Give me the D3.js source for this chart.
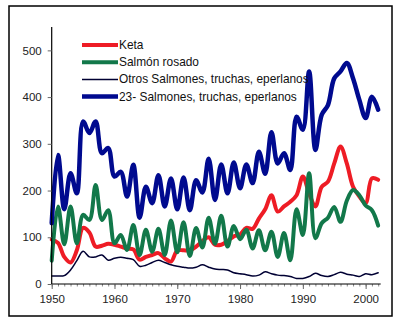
<!DOCTYPE html>
<html><head><meta charset="utf-8">
<script src="https://cdn.jsdelivr.net/npm/d3@7"></script>
<style>body{margin:0;background:#fff}svg{display:block}text{font-family:"Liberation Sans",Arial,sans-serif}</style>
</head><body><svg id="c" width="400" height="325"></svg>
<script>
const years = d3.range(1950, 2003);
const keta = [95,88,58,46,72,120,110,80,82,86,84,80,76,74,52,58,62,66,55,48,72,72,72,80,92,100,84,84,92,102,106,120,118,140,160,190,155,166,176,190,230,194,166,208,219,258,294,258,208,187,173,226,223];
const rosado = [50,166,85,166,87,148,137,212,137,158,87,105,73,126,62,116,69,118,62,136,68,132,60,120,78,142,86,146,80,124,96,116,76,115,72,112,58,109,51,160,105,237,98,130,142,165,133,178,201,190,168,158,125];
const otros = [17,17,18,30,50,70,58,58,62,51,55,57,55,52,38,40,46,51,46,41,38,36,34,36,41,36,32,31,30,24,22,20,17,19,26,22,19,18,16,12,12,16,23,18,16,20,25,21,19,16,22,20,24];
const total = [130,276,160,237,194,348,323,348,280,291,230,240,187,255,142,208,173,233,166,226,160,228,158,222,196,268,180,256,194,260,205,256,216,283,236,325,258,280,244,358,330,455,287,362,383,440,455,473,440,394,355,401,373];
const seriesNames = ["Keta","Salmón rosado","Otros Salmones, truchas, eperlanos","23- Salmones, truchas, eperlanos"];
const seriesColors = ["#ee1c25","#12784a","#000033","#000a8f"];
const seriesWidths = [4,4,1.5,4.5];
const yTicks = [0,100,200,300,400,500];
const xTicks = [1950,1960,1970,1980,1990,2000];

const svg = d3.select("#c");
svg.append("rect").attr("x",9).attr("y",6).attr("width",383).attr("height",310)
  .attr("fill","none").attr("stroke","#000").attr("stroke-width",1.5);

const x = d3.scaleLinear().domain([1950, 2002.4]).range([51.7, 380.7]);
const y = d3.scaleLinear().domain([0, 550]).range([284, 27]);

const data = [keta, rosado, otros, total];
const line = d3.line().x((d,i)=>x(years[i])).y(d=>y(d)).curve(d3.curveCatmullRom.alpha(0.5));
data.forEach((s,k)=>{
  svg.append("path").datum(s).attr("d",line).attr("fill","none")
    .attr("stroke",seriesColors[k]).attr("stroke-width",seriesWidths[k])
    .attr("stroke-linejoin","round").attr("stroke-linecap","round");
});

// y axis
const ya = svg.append("g").attr("transform",`translate(${x(1950)},0)`)
  .call(d3.axisLeft(y).tickValues(yTicks).tickSize(4).tickPadding(6));
ya.select(".domain").attr("d",`M0,${y(550)}V${y(0)}`).attr("stroke","#000").attr("stroke-width",1.2);
ya.selectAll("text").attr("font-size",11.5).attr("fill","#222").attr("font-family","Liberation Sans, Arial, sans-serif");
ya.selectAll("line").attr("stroke","#666");

// x axis minor
const xm = svg.append("g").attr("transform",`translate(0,${y(0)})`)
  .call(d3.axisBottom(x).tickValues(d3.range(1950,2003)).tickSize(2.5).tickFormat(""));
xm.select(".domain").remove();
xm.selectAll("line").attr("stroke","#888");
const xa = svg.append("g").attr("transform",`translate(0,${y(0)})`)
  .call(d3.axisBottom(x).tickValues(xTicks).tickSize(5).tickPadding(6).tickFormat(d3.format("d")));
xa.select(".domain").attr("d",`M${x(1950)},0H${x(2002.4)}`).attr("stroke","#000").attr("stroke-width",1.2);
xa.selectAll("text").attr("font-size",11.5).attr("fill","#222").attr("font-family","Liberation Sans, Arial, sans-serif");
xa.selectAll("line").attr("stroke","#666");

// legend
const lg = svg.append("g");
seriesNames.forEach((n,k)=>{
  const yy = 45 + k*17.2;
  lg.append("line").attr("x1",82).attr("x2",118).attr("y1",yy).attr("y2",yy)
    .attr("stroke",seriesColors[k]).attr("stroke-width",seriesWidths[k]);
  lg.append("text").attr("x",119).attr("y",yy+4).attr("font-size",11.9).attr("fill","#111").text(n);
});
</script></body></html>
